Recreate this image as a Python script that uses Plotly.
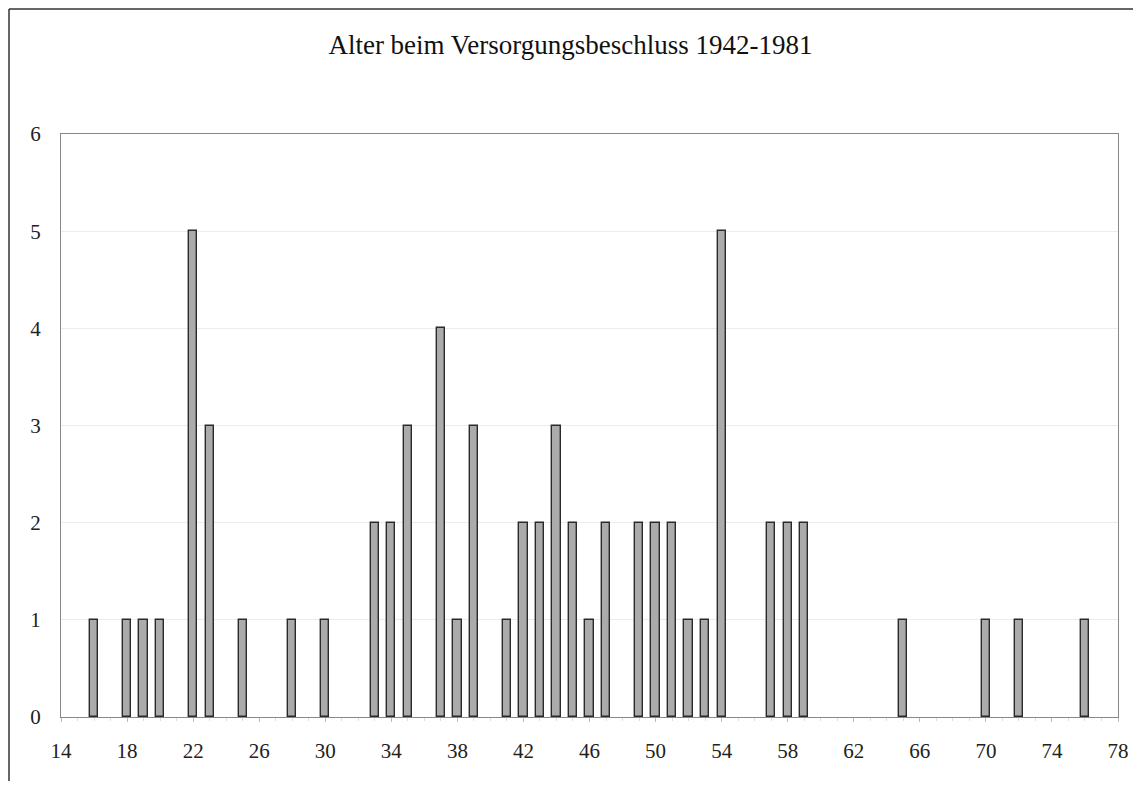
import plotly.graph_objects as go

ages = [16, 18, 19, 20, 22, 23, 25, 28, 30, 33, 34, 35, 37, 38, 39, 41, 42, 43, 44, 45,
        46, 47, 49, 50, 51, 52, 53, 54, 57, 58, 59, 65, 70, 72, 76]
counts = [1, 1, 1, 1, 5, 3, 1, 1, 1, 2, 2, 3, 4, 1, 3, 1, 2, 2, 3, 2,
          1, 2, 2, 2, 2, 1, 1, 5, 2, 2, 2, 1, 1, 1, 1]
x_ticks = list(range(14, 79, 4))
y_ticks = [0, 1, 2, 3, 4, 5, 6]
title_text = "Alter beim Versorgungsbeschluss 1942-1981"

FONT = "Liberation Serif"
W, H = 1125, 773
L, T, R, B = 53, 126, 15, 64

fig = go.Figure()
fig.add_trace(go.Bar(
    x=ages, y=counts, width=0.5,
    marker=dict(color="#ababab", line=dict(color="#2a2a2a", width=1.4)),
    showlegend=False,
))

fig.update_layout(
    width=W, height=H,
    margin=dict(l=L, r=R, t=T, b=B, autoexpand=False),
    paper_bgcolor="white", plot_bgcolor="white",
    font=dict(family=FONT, color="#222222", size=21),
    title=dict(text=title_text, x=0.5, xanchor="center", y=1 - 37 / H, yanchor="middle",
               font=dict(family=FONT, size=27, color="#111111")),
    bargap=0,
)
fig.update_xaxes(
    range=[14, 78], tickvals=x_ticks, showgrid=False, zeroline=False,
    showline=True, linecolor="#888888", linewidth=1, mirror=True,
    ticks="outside", ticklen=4, tickcolor="#bbbbbb", ticklabelstandoff=11,
    minor=dict(dtick=1, ticks="outside", ticklen=3, tickcolor="#dddddd"),
    tickfont=dict(family=FONT, size=21, color="#222222"),
)
fig.update_yaxes(
    range=[0, 6], tickvals=y_ticks, showgrid=True, gridcolor="#ececec", gridwidth=1,
    zeroline=False, showline=True, linecolor="#888888", linewidth=1, mirror=True,
    ticks="", ticklabelstandoff=15,
    tickfont=dict(family=FONT, size=21, color="#222222"),
)

# outer frame (left and top edges visible)
pw, ph = W - L - R, H - T - B
xl = (1 - L) / pw
yt = (H - B - 1) / ph
fig.add_shape(type="line", xref="paper", yref="paper", x0=xl, x1=xl, y0=-0.2, y1=yt,
              line=dict(color="#333333", width=1.5))
fig.add_shape(type="line", xref="paper", yref="paper", x0=xl, x1=1.1, y0=yt, y1=yt,
              line=dict(color="#333333", width=1.5))

fig.write_html("out.html")
